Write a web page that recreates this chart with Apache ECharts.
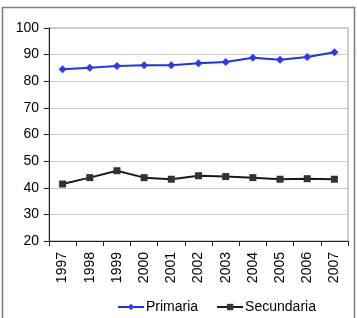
<!DOCTYPE html>
<html>
<head>
<meta charset="utf-8">
<script src="https://cdn.jsdelivr.net/npm/echarts@6/dist/echarts.min.js"></script>
<style>
  html, body { margin: 0; padding: 0; background: #fff; }
  #chart { width: 357px; height: 318px; }
</style>
</head>
<body>
<div id="chart"></div>
<script>
const years = ['1997', '1998', '1999', '2000', '2001', '2002', '2003', '2004', '2005', '2006', '2007']
const primaria = [84.5, 85.1, 85.7, 86.0, 86.0, 86.8, 87.2, 88.8, 88.1, 89.1, 90.9]
const secundaria = [41.4, 43.8, 46.4, 43.8, 43.2, 44.5, 44.2, 43.8, 43.2, 43.4, 43.2]

const font = 'Liberation Sans, Arial, sans-serif'

const chart = echarts.init(document.getElementById('chart'))

chart.setOption({
  animation: false,
  textStyle: { fontFamily: font },
  // outer frame
  graphic: [{
    type: 'rect',
    shape: { x: 2.5, y: 7.5, width: 352, height: 320 },
    style: { fill: 'none', stroke: '#808080', lineWidth: 1.6 },
    silent: true
  }],
  grid: {
    left: 49,
    top: 28,
    right: 9,
    bottom: 77,
    show: true,
    borderColor: '#9a9a9a',
    borderWidth: 1
  },
  legend: {
    left: 117,
    top: 300,
    padding: 0,
    itemWidth: 26,
    itemHeight: 8,
    itemGap: 18,
    textStyle: { fontSize: 14, color: '#000', fontFamily: font, padding: [0, 0, 0, -3] }
  },
  xAxis: {
    type: 'category',
    data: years,
    boundaryGap: true,
    axisLine: { lineStyle: { color: '#222', width: 1 } },
    axisTick: { show: true, length: 5, lineStyle: { color: '#222' } },
    axisLabel: { rotate: 90, margin: 11, fontSize: 14, color: '#000', fontFamily: font },
    splitLine: { show: false }
  },
  yAxis: {
    type: 'value',
    min: 20,
    max: 100,
    interval: 10,
    axisLine: { show: true, lineStyle: { color: '#222', width: 1 } },
    axisTick: { show: true, length: 5, lineStyle: { color: '#222' } },
    axisLabel: { margin: 10, fontSize: 14, color: '#000', fontFamily: font },
    splitLine: { show: true, lineStyle: { color: '#cccccc', width: 1 } }
  },
  series: [{
    name: 'Primaria',
    type: 'line',
    data: primaria,
    symbol: 'diamond',
    symbolSize: 8,
    color: '#2233e6',
    lineStyle: { width: 2, color: '#2233e6' },
    itemStyle: { color: '#2a3cf0' }
  }, {
    name: 'Secundaria',
    type: 'line',
    data: secundaria,
    symbol: 'rect',
    symbolSize: 7,
    color: '#1a1a1a',
    lineStyle: { width: 2, color: '#1a1a1a' },
    itemStyle: { color: '#333' }
  }]
})
</script>
</body>
</html>
